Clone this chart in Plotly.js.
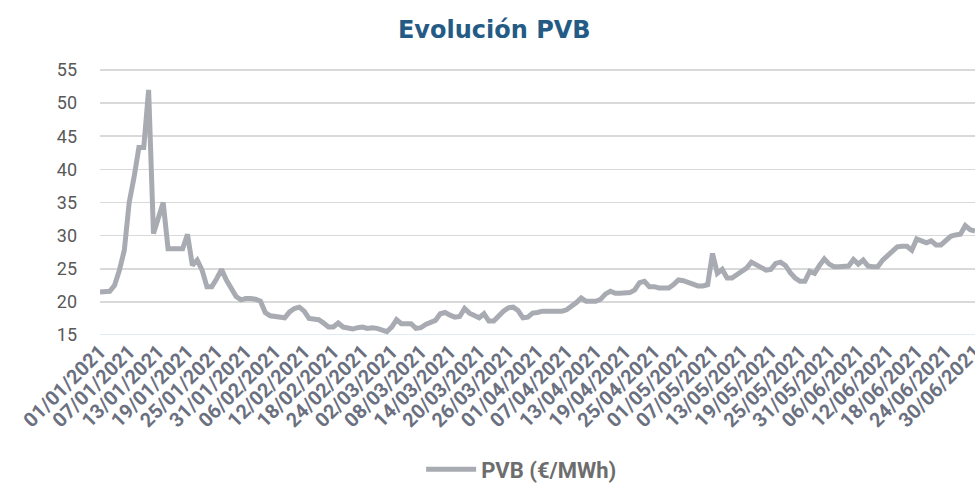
<!DOCTYPE html>
<html>
<head>
<meta charset="utf-8">
<script src="https://cdn.plot.ly/plotly-3.0.1.min.js"></script>
<style>html,body{margin:0;padding:0;background:#fff;}#chart{width:975px;height:485px;}</style>
</head>
<body>
<div id="chart"></div>
<script>
// Daily PVB price (€/MWh), 01/01/2021 .. 30/06/2021
const startDate = '2021-01-01';
const endDate = '2021-06-30';
const seriesName = 'PVB (€/MWh)';
const pvb = [
  21.5, 21.5, 21.6, 22.5, 24.8, 27.8, 35.0, 38.8, 43.3, 43.3,
  52.0, 30.3, 32.5, 35.0, 28.0, 28.0, 28.0, 28.0, 30.2, 25.5,
  26.3, 24.8, 22.3, 22.3, 23.5, 24.9, 23.3, 22.0, 20.8, 20.3,
  20.5, 20.5, 20.4, 20.1, 18.4, 17.9, 17.8, 17.6, 17.6, 18.5,
  19.0, 19.2, 18.6, 17.5, 17.4, 17.3, 16.8, 16.2, 16.2, 16.8,
  16.2, 16.0, 15.9, 16.1, 16.2, 16.0, 16.1, 16.0, 15.7, 15.5,
  16.2, 17.3, 16.7, 16.7, 16.7, 16.0, 16.1, 16.6, 16.9, 17.2,
  18.2, 18.4, 18.0, 17.7, 17.8, 19.0, 18.3, 17.9, 17.6, 18.2,
  17.1, 17.1, 17.9, 18.6, 19.1, 19.2, 18.7, 17.6, 17.7, 18.3,
  18.4, 18.6, 18.6, 18.6, 18.6, 18.6, 18.8, 19.3, 19.9, 20.6,
  20.1, 20.1, 20.1, 20.4, 21.2, 21.6, 21.3, 21.3, 21.3, 21.4,
  21.8, 22.9, 23.1, 22.3, 22.3, 22.1, 22.1, 22.1, 22.6, 23.3,
  23.2, 22.9, 22.7, 22.4, 22.4, 22.6, 27.3, 24.3, 24.9, 23.6,
  23.6, 24.1, 24.6, 25.1, 26.0, 25.6, 25.1, 24.8, 24.9, 25.8,
  26.0, 25.5, 24.4, 23.6, 23.1, 23.1, 24.6, 24.3, 25.5, 26.5,
  25.7, 25.3, 25.3, 25.3, 25.4, 26.4, 25.7, 26.3, 25.4, 25.3,
  25.3, 26.3, 27.0, 27.8, 28.3, 28.4, 28.4, 27.8, 29.5, 29.2,
  28.9, 29.2, 28.6, 28.6, 29.2, 29.9, 30.1, 30.2, 31.5, 30.9,
  30.7
];
const yTicks = [15, 20, 25, 30, 35, 40, 45, 50, 55];

// date categories, one per day
const dates = [];
{
  const d0 = new Date(startDate + 'T00:00:00Z');
  for (let i = 0; i < pvb.length; i++) {
    const d = new Date(d0.getTime() + i * 86400000);
    dates.push(d.toISOString().slice(0, 10));
  }
}

const trace = {
  x: dates, y: pvb, type: 'scatter', mode: 'lines', name: seriesName,
  line: {color: '#a9abb3', width: 5, shape: 'linear'}
};

const layout = {
  width: 975, height: 485,
  margin: {l: 100, r: 0, t: 68, b: 150, autoexpand: false},
  paper_bgcolor: '#ffffff', plot_bgcolor: '#ffffff',
  title: {
    text: 'Evolución PVB',
    font: {family: 'DejaVu Sans', size: 24, color: '#245b85', weight: 'bold'},
    x: 0.507, xanchor: 'center', xref: 'container',
    y: 0.94, yanchor: 'middle', yref: 'container'
  },
  xaxis: {
    type: 'date',
    range: [startDate, endDate],
    tick0: startDate, dtick: 6 * 86400000,
    tickformat: '%d/%m/%Y',
    tickangle: -45,
    tickfont: {family: 'Roboto', size: 20, color: '#6b7080', weight: 'bold'},
    ticklabeloverflow: 'allow',
    automargin: false,
    showgrid: false, zeroline: false,
    showline: false, ticks: '', ticklen: 0
  },
  yaxis: {
    range: [15, 55.3],
    tickvals: yTicks,
    ticktext: yTicks.map(String),
    tickfont: {family: 'Roboto', size: 18, color: '#595959'},
    automargin: false,
    showgrid: true, gridcolor: '#d9d9d9', gridwidth: 1.5,
    zeroline: false, showline: false, ticks: '',
    ticklabelstandoff: 22
  },
  shapes: [{
    type: 'line', xref: 'paper', yref: 'y', x0: 0, x1: 1, y0: 15, y1: 15,
    line: {color: '#d6e6f2', width: 1.5}, layer: 'below'
  }],
  showlegend: true,
  legend: {
    orientation: 'h', xref: 'container', x: 0.535, xanchor: 'center',
    yref: 'container', y: 0.032, yanchor: 'middle',
    font: {family: 'Roboto', size: 22, color: '#6d6d6d', weight: 'bold'},
    itemwidth: 50
  }
};

Plotly.newPlot('chart', [trace], layout, {displayModeBar: false, staticPlot: true});
</script>
</body>
</html>
